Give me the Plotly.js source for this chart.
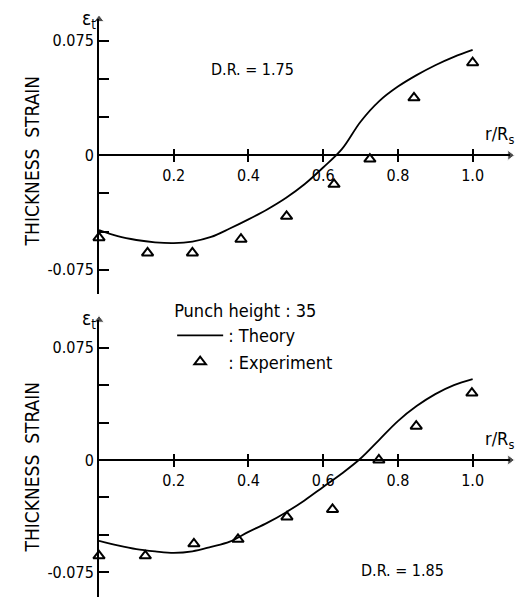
<!DOCTYPE html>
<html>
<head>
<meta charset="utf-8">
<script src="https://cdn.plot.ly/plotly-3.0.1.min.js"></script>
<style>html,body{margin:0;padding:0;background:#fff}#chart{width:522px;height:597px}</style>
</head>
<body>
<div id="chart"></div>
<script>
// Theory curves (r/Rs vs thickness strain)
const theoryX = [0, 0.05, 0.1, 0.15, 0.2, 0.25, 0.3, 0.35, 0.4, 0.45, 0.5, 0.55, 0.6, 0.65, 0.7, 0.75, 0.8, 0.85, 0.9, 0.95, 1.0];
const theoryTopY = [-0.049, -0.053, -0.0555, -0.057, -0.0575, -0.0565, -0.0535, -0.048, -0.042, -0.0355, -0.028, -0.019, -0.008, 0.004, 0.022, 0.0355, 0.045, 0.0525, 0.059, 0.0645, 0.069];
const theoryBotY = [-0.054, -0.057, -0.0595, -0.061, -0.062, -0.061, -0.058, -0.0545, -0.048, -0.042, -0.035, -0.027, -0.018, -0.009, 0.001, 0.0135, 0.026, 0.036, 0.044, 0.050, 0.054];
// Experiments
const expTopX = [0, 0.130, 0.250, 0.380, 0.502, 0.629, 0.725, 0.843, 1.0];
const expTopY = [-0.054, -0.064, -0.064, -0.055, -0.040, -0.019, -0.0025, 0.0376, 0.0606];
const expBotX = [0, 0.124, 0.254, 0.372, 0.503, 0.625, 0.749, 0.849, 0.998];
const expBotY = [-0.064, -0.064, -0.056, -0.053, -0.038, -0.033, 0, 0.0226, 0.0447];
// Ticks
const xTickVals = [0.2, 0.4, 0.6, 0.8, 1.0];
const xTickText = ['0.2', '0.4', '0.6', '0.8', '1.0'];
const yTickVals = [-0.075, 0, 0.075];
const yTickText = ['-0.075', '0', '0.075'];
const yMinorVals = [-0.05, -0.025, 0.025, 0.05];

const FONT = 'DejaVu Sans Condensed, DejaVu Sans, sans-serif';
const xRange = [0, 1.1];
const topYRange = [-0.091, 0.089], topDom = [0.5072, 0.9675];
const botYRange = [-0.0915, 0.0935], botDom = [0, 0.464];
function zeroPos(r, d) { return d[0] + (0 - r[0]) / (r[1] - r[0]) * (d[1] - d[0]); }

const lineStyle = {color: '#000', width: 1.8, shape: 'spline', smoothing: 1};
const markerStyle = {symbol: 'triangle-up-open', size: 10, color: '#000', line: {color: '#000', width: 2}};
const arrowR = {symbol: 'triangle-right', size: [9], color: '#000'};
const arrowU = {symbol: 'triangle-up', size: [9], color: '#000'};

const traces = [
  {x: theoryX, y: theoryTopY, mode: 'lines', line: lineStyle, name: ': Theory', xaxis: 'x', yaxis: 'y', showlegend: true, cliponaxis: false},
  {x: expTopX, y: expTopY, mode: 'markers', marker: markerStyle, name: ': Experiment', xaxis: 'x', yaxis: 'y', showlegend: true, cliponaxis: false},
  {x: theoryX, y: theoryBotY, mode: 'lines', line: lineStyle, name: ': Theory', xaxis: 'x2', yaxis: 'y2', showlegend: false, cliponaxis: false},
  {x: expBotX, y: expBotY, mode: 'markers', marker: markerStyle, name: ': Experiment', xaxis: 'x2', yaxis: 'y2', showlegend: false, cliponaxis: false},
  {x: [], y: [], xaxis: 'x3', yaxis: 'y', showlegend: false, hoverinfo: 'skip'},
  {x: [], y: [], xaxis: 'x4', yaxis: 'y2', showlegend: false, hoverinfo: 'skip'},
  // axis arrowheads
  {x: [xRange[1]], y: [0], mode: 'markers', marker: arrowR, xaxis: 'x', yaxis: 'y', showlegend: false, cliponaxis: false, hoverinfo: 'skip'},
  {x: [xRange[1]], y: [0], mode: 'markers', marker: arrowR, xaxis: 'x2', yaxis: 'y2', showlegend: false, cliponaxis: false, hoverinfo: 'skip'},
  {x: [0], y: [topYRange[1]], mode: 'markers', marker: arrowU, xaxis: 'x', yaxis: 'y', showlegend: false, cliponaxis: false, hoverinfo: 'skip'},
  {x: [0], y: [botYRange[1]], mode: 'markers', marker: arrowU, xaxis: 'x2', yaxis: 'y2', showlegend: false, cliponaxis: false, hoverinfo: 'skip'}
];

function xMain(pos) {
  return {range: xRange, domain: [0, 1], anchor: 'free', position: pos, showline: true, linewidth: 2, linecolor: '#000',
    ticks: 'outside', ticklen: 6, tickwidth: 2, tickcolor: '#000', tickvals: xTickVals, ticktext: xTickText,
    showgrid: false, zeroline: false, tickfont: {family: FONT, size: 16, color: '#000'}};
}
function xOver(over, pos) {
  return {range: xRange, domain: [0, 1], overlaying: over, anchor: 'free', position: pos, showline: false,
    ticks: 'inside', ticklen: 6, tickwidth: 2, tickcolor: '#000', tickvals: xTickVals, showticklabels: false,
    showgrid: false, zeroline: false};
}
function yAx(r, d, anchorX) {
  return {range: r, domain: d, anchor: anchorX, showline: true, linewidth: 2, linecolor: '#000',
    ticks: 'inside', ticklen: 10, tickwidth: 2, tickcolor: '#000', tickvals: yTickVals, ticktext: yTickText,
    minor: {tickmode: 'array', tickvals: yMinorVals, ticks: 'inside', ticklen: 10, tickwidth: 2, tickcolor: '#000', showgrid: false},
    showgrid: false, zeroline: false, tickfont: {family: FONT, size: 16, color: '#000'}};
}

const topPos = zeroPos(topYRange, topDom), botPos = zeroPos(botYRange, botDom);
const txt = (s, size, extra) => Object.assign({text: s, showarrow: false, font: {family: FONT, size: size, color: '#000'}}, extra);

const layout = {
  width: 522, height: 597, margin: {l: 99, r: 12, t: 0, b: 0},
  paper_bgcolor: '#fff', plot_bgcolor: '#fff', font: {family: FONT, size: 16, color: '#000'},
  xaxis: xMain(topPos), xaxis2: xMain(botPos),
  xaxis3: xOver('x', topPos), xaxis4: xOver('x2', botPos),
  yaxis: yAx(topYRange, topDom, 'x'), yaxis2: yAx(botYRange, botDom, 'x2'),
  showlegend: true,
  legend: {x: 0.178, xanchor: 'left', y: 0.508, yanchor: 'top', bgcolor: 'rgba(0,0,0,0)', borderwidth: 0,
    font: {family: FONT, size: 18, color: '#000'}, title: {text: 'Punch height : 35', font: {family: FONT, size: 18, color: '#000'}},
    tracegroupgap: 0, itemwidth: 46},
  annotations: [
    txt('D.R. = 1.75', 16, {xref: 'x', yref: 'y', x: 0.41, y: 0.056}),
    txt('D.R. = 1.85', 16, {xref: 'x2', yref: 'y2', x: 0.812, y: -0.0735}),
    txt('r/R<sub>s</sub>', 18, {xref: 'x', yref: 'y', x: 1.1, y: 0, xanchor: 'right', yanchor: 'bottom', yshift: 6, xshift: 6}),
    txt('r/R<sub>s</sub>', 18, {xref: 'x2', yref: 'y2', x: 1.1, y: 0, xanchor: 'right', yanchor: 'bottom', yshift: 6, xshift: 6}),
    txt('ε<sub>t</sub>', 19, {xref: 'x', yref: 'y', x: 0, y: topYRange[1], xanchor: 'right', yanchor: 'middle', xshift: -1}),
    txt('ε<sub>t</sub>', 19, {xref: 'x2', yref: 'y2', x: 0, y: botYRange[1], xanchor: 'right', yanchor: 'middle', xshift: -1}),
    txt('THICKNESS  STRAIN', 19, {xref: 'paper', yref: 'y', x: 0, y: -0.004, textangle: -90, xshift: -80}),
    txt('THICKNESS  STRAIN', 19, {xref: 'paper', yref: 'y2', x: 0, y: -0.005, textangle: -90, xshift: -80})
  ]
};

Plotly.newPlot('chart', traces, layout, {displayModeBar: false, staticPlot: true});
</script>
</body>
</html>
